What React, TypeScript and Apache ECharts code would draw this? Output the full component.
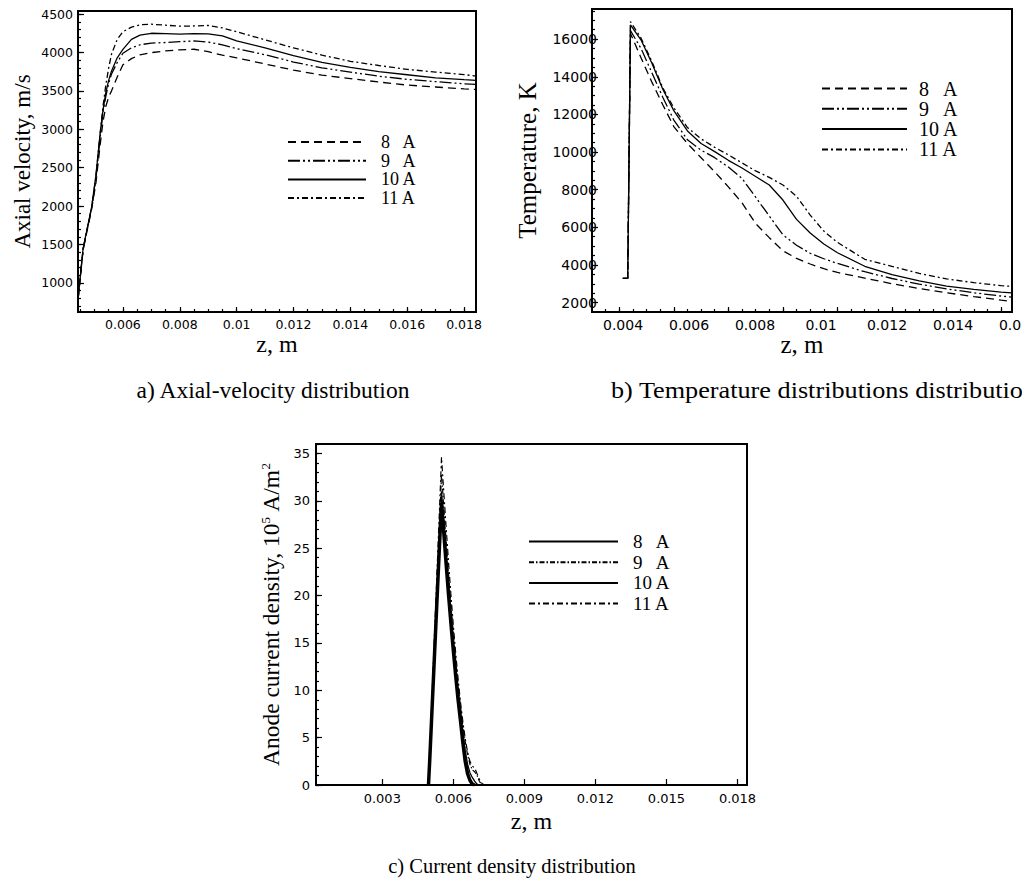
import React, { useEffect, useRef } from 'react';
import * as echarts from 'echarts';

const SERIF = '"Liberation Serif", "Times New Roman", serif';
const SANS = '"DejaVu Sans", sans-serif';

const NAMES = ['8   A', '9   A', '10 A', '11 A'];

// ---------- Panel a: axial velocity ----------
const zA = [0.00442, 0.0046, 0.0049, 0.00505, 0.0052, 0.0053, 0.0054, 0.0055, 0.0056, 0.0058, 0.006, 0.0063, 0.0066, 0.007, 0.0075, 0.008, 0.0085, 0.009, 0.0095, 0.01, 0.011, 0.012, 0.013, 0.014, 0.015, 0.016, 0.017, 0.018, 0.01842];
const velA8 = [780, 1430, 1960, 2300, 2800, 3100, 3300, 3420, 3500, 3680, 3840, 3920, 3970, 3998, 4020, 4035, 4042, 4010, 3965, 3930, 3850, 3770, 3705, 3660, 3615, 3575, 3550, 3525, 3518];
const velA9 = [780, 1440, 1970, 2350, 2900, 3220, 3430, 3600, 3720, 3870, 3990, 4060, 4100, 4122, 4130, 4140, 4150, 4135, 4100, 4050, 3970, 3875, 3800, 3745, 3690, 3650, 3620, 3592, 3584];
const velA10 = [780, 1450, 1990, 2400, 2950, 3250, 3480, 3640, 3760, 3930, 4040, 4170, 4225, 4250, 4245, 4238, 4245, 4242, 4215, 4150, 4060, 3958, 3870, 3805, 3750, 3710, 3670, 3645, 3636];
const velA11 = [780, 1440, 1980, 2380, 2950, 3300, 3580, 3800, 3980, 4170, 4270, 4330, 4360, 4368, 4355, 4342, 4345, 4352, 4320, 4270, 4165, 4060, 3965, 3885, 3830, 3780, 3745, 3712, 3693];
const xTicksA = [0.006, 0.008, 0.01, 0.012, 0.014, 0.016, 0.018];
const yTicksA = [1000, 1500, 2000, 2500, 3000, 3500, 4000, 4500];

// ---------- Panel b: temperature ----------
const zB = [0.00413, 0.00431, 0.00441, 0.0048, 0.0052, 0.0056, 0.006, 0.0065, 0.007, 0.0075, 0.008, 0.0085, 0.009, 0.0095, 0.01, 0.0105, 0.011, 0.0115, 0.012, 0.013, 0.014, 0.015, 0.016, 0.017, 0.018, 0.0184];
const tempB8 = [3290, 3290, 16300, 15000, 13700, 12500, 11350, 10450, 9700, 8950, 8150, 7300, 6200, 5450, 4750, 4350, 4050, 3800, 3600, 3300, 3000, 2750, 2520, 2320, 2130, 2060];
const tempB9 = [3290, 3290, 16450, 15500, 14200, 12900, 11700, 10650, 10100, 9700, 9200, 8600, 7600, 6600, 5600, 5050, 4620, 4330, 4080, 3640, 3280, 2980, 2730, 2520, 2350, 2290];
const tempB10 = [3290, 3290, 16750, 15950, 14700, 13320, 12200, 11120, 10450, 10020, 9560, 9150, 8700, 8250, 7450, 6420, 5700, 5110, 4650, 3930, 3480, 3150, 2880, 2700, 2560, 2520];
const tempB11 = [3290, 3290, 16930, 16050, 14800, 13400, 12350, 11300, 10700, 10250, 9850, 9420, 9000, 8650, 8250, 7650, 6650, 5800, 5200, 4300, 3920, 3550, 3260, 3060, 2900, 2860];
const xTicksB = [0.004, 0.006, 0.008, 0.01, 0.012, 0.014, 0.016, 0.018];
const xLabelsB = [0.004, 0.006, 0.008, 0.01, 0.012, 0.014, 0.016];
const yTicksB = [2000, 4000, 6000, 8000, 10000, 12000, 14000, 16000];

// ---------- Panel c: anode current density ----------
const zC = [0.00495, 0.005, 0.0051, 0.0052, 0.0053, 0.0054, 0.0055, 0.0056, 0.0057, 0.0058, 0.0059, 0.006, 0.0061, 0.0062, 0.0063, 0.0064, 0.0065, 0.0066, 0.0067, 0.0068, 0.0069, 0.007, 0.0071, 0.0072, 0.0073];
const curC8 = [0, 2.5, 8, 13.5, 19, 24.5, 29.8, 26.5, 23.2, 20, 17, 14.2, 11.5, 9, 6.8, 4.5, 2.5, 1.2, 0.5, 0.1, 0, null, null, null, null];
const curC9 = [0, 2.8, 8.8, 14.8, 20.8, 26.8, 32.8, 29.2, 25.6, 22.2, 19, 16, 13.2, 10.6, 8.3, 6.3, 4.6, 3.2, 2.2, 1.6, 1.4, 1.0, 0.4, 0, null];
const curC10 = [0, 2.6, 8.3, 14, 19.7, 25.4, 31, 27.6, 24.2, 21, 18, 15.2, 12.5, 10, 7.8, 5.6, 3.6, 2.2, 1.3, 0.8, 0.4, 0.1, 0, null, null];
const curC11 = [0, 3, 9.3, 15.6, 21.9, 28.2, 34.6, 30.8, 27, 23.4, 20, 16.8, 13.9, 11.2, 8.8, 6.7, 4.9, 3.5, 2.5, 2.0, 1.8, 1.2, 0.6, 0.2, 0];
const xTicksC = [0.003, 0.006, 0.009, 0.012, 0.015, 0.018];
const yTicksC = [0, 5, 10, 15, 20, 25, 30, 35];

// ---------- helpers ----------
function steps(start: number, end: number, step: number): number[] {
  const n = Math.round((end - start) / step);
  const out: number[] = [];
  for (let i = 0; i <= n; i++) out.push(Number((start + i * step).toFixed(8)));
  return out;
}
const fmt = (v: number) => String(Number(Number(v).toFixed(6)));

function axis(p: any) {
  const isY = p.position === 'left';
  return {
    type: 'value',
    gridIndex: p.gridIndex,
    min: p.min,
    max: p.max,
    position: p.position,
    show: p.show !== false,
    axisLine: { show: !!p.line, onZero: false, lineStyle: { color: '#000', width: 2 } },
    axisTick: {
      show: !!p.ticks,
      inside: true,
      length: p.tickLen || 5,
      customValues: p.ticks || [],
      lineStyle: { color: '#000', width: 1.2 },
    },
    axisLabel: p.labels
      ? {
          show: true,
          customValues: p.labels,
          margin: p.labelMargin,
          formatter: fmt,
          color: '#000',
          fontFamily: SANS,
          fontSize: p.labelFont,
          hideOverlap: false,
        }
      : { show: false },
    splitLine: { show: false },
    name: p.name,
    nameLocation: 'middle',
    nameGap: p.nameGap,
    nameRotate: isY ? 90 : 0,
    nameMoveOverlap: false,
    nameTextStyle: {
      fontFamily: SERIF,
      fontSize: p.nameFont,
      color: '#000',
      rich: p.nameRich,
    },
  };
}

function line(name: string, xs: number[], ys: (number | null)[], lineStyle: any) {
  const data = xs.map((x, i) => [x, ys[i]]).filter((d) => d[1] !== null);
  return {
    type: 'line',
    name,
    data,
    symbol: 'none',
    showSymbol: false,
    xAxisIndex: 0,
    yAxisIndex: 0,
    lineStyle: { color: '#000', width: 1.3, ...lineStyle },
    itemStyle: { color: '#000' },
    z: 3,
  };
}

function grid(left: number, top: number, width: number, height: number, show = true) {
  return {
    left,
    top,
    width,
    height,
    show,
    borderColor: '#000',
    borderWidth: 2,
    backgroundColor: 'transparent',
    containLabel: false,
    outerBoundsMode: 'none',
  };
}

function legend(left: number, top: number, w: number, h: number, gap: number, font: number, pad: number) {
  return {
    orient: 'vertical',
    left,
    top,
    itemWidth: w,
    itemHeight: h,
    itemGap: gap,
    selectedMode: false,
    padding: 0,
    data: NAMES,
    itemStyle: { opacity: 0, color: 'transparent', borderWidth: 0 },
    textStyle: { fontFamily: SERIF, fontSize: font, color: '#000', padding: [0, 0, 0, pad] },
  };
}

function caption(text: string, x: number, y: number, align: string, size: number, scaleX = 1) {
  return {
    type: 'text',
    x,
    y,
    scaleX,
    silent: true,
    style: {
      text,
      fill: '#000',
      fontFamily: SERIF,
      fontSize: size,
      align,
      verticalAlign: 'middle',
      textAlign: align,
      textVerticalAlign: 'middle',
    },
  };
}

const DASH = [8, 5];
const DASH_DOT_DOT = [12, 3, 2, 3, 2, 3];
const DASH_DOT = [6, 3, 2, 3];

// ---------- options ----------
const optionA = {
  animation: false,
  grid: [grid(78, 11, 398, 301)],
  xAxis: [
    axis({ gridIndex: 0, min: 0.00442, max: 0.01842, position: 'bottom', line: true, ticks: xTicksA, labels: xTicksA, labelFont: 12.5, labelMargin: 6, tickLen: 5, name: 'z, m', nameGap: 20, nameFont: 24 }),
    axis({ gridIndex: 0, min: 0.00442, max: 0.01842, position: 'bottom', ticks: steps(0.0045, 0.018, 0.0005), tickLen: 3 }),
  ],
  yAxis: [
    axis({ gridIndex: 0, min: 620, max: 4540, position: 'left', line: true, ticks: yTicksA, labels: yTicksA, labelFont: 12.5, labelMargin: 5, tickLen: 6, name: 'Axial velocity, m/s', nameGap: 44, nameFont: 23 }),
    axis({ gridIndex: 0, min: 620, max: 4540, position: 'left', ticks: steps(700, 4500, 100), tickLen: 3 }),
  ],
  legend: legend(287, 133, 78, 20, 0.7, 18, 10),
  series: [
    line(NAMES[0], zA, velA8, { type: DASH }),
    line(NAMES[1], zA, velA9, { type: DASH_DOT_DOT }),
    line(NAMES[2], zA, velA10, { type: 'solid' }),
    line(NAMES[3], zA, velA11, { type: DASH_DOT }),
  ],
  graphic: [caption('a) Axial-velocity distribution', 273, 390, 'center', 23.5)],
};

const optionB = {
  animation: false,
  grid: [grid(592, 9, 420, 303), grid(592, 9, 460, 303, false)],
  xAxis: [
    axis({ gridIndex: 0, min: 0.003, max: 0.0184, position: 'bottom', line: true, ticks: xTicksB, tickLen: 5, name: 'z, m', nameGap: 20, nameFont: 25 }),
    axis({ gridIndex: 0, min: 0.003, max: 0.0184, position: 'bottom', ticks: steps(0.0035, 0.018, 0.0005), tickLen: 3 }),
    axis({ gridIndex: 1, min: 0.00306, max: 0.017, position: 'bottom', labels: xLabelsB, labelFont: 14, labelMargin: 6 }),
  ],
  yAxis: [
    axis({ gridIndex: 0, min: 1500, max: 17600, position: 'left', line: true, ticks: yTicksB, labels: yTicksB, labelFont: 14, labelMargin: -5, tickLen: 6, name: 'Temperature, K', nameGap: 52, nameFont: 25 }),
    axis({ gridIndex: 0, min: 1500, max: 17600, position: 'left', ticks: steps(2000, 17500, 500), tickLen: 3 }),
    axis({ gridIndex: 1, min: 1500, max: 17600, position: 'left', show: false }),
  ],
  legend: legend(821, 78.5, 85, 21, 0.3, 20, 7),
  series: [
    line(NAMES[0], zB, tempB8, { type: DASH }),
    line(NAMES[1], zB, tempB9, { type: DASH_DOT_DOT }),
    line(NAMES[2], zB, tempB10, { type: 'solid' }),
    line(NAMES[3], zB, tempB11, { type: DASH_DOT }),
  ],
  graphic: [caption('b) Temperature distributions distribution', 611, 390, 'left', 23, 1.14)],
};

const optionC = {
  animation: false,
  grid: [grid(316, 444, 431, 341)],
  xAxis: [
    axis({ gridIndex: 0, min: 0.0002, max: 0.0184, position: 'bottom', line: true, ticks: xTicksC, labels: xTicksC, labelFont: 13, labelMargin: 7, tickLen: 6, name: 'z, m', nameGap: 24, nameFont: 24 }),
  ],
  yAxis: [
    axis({
      gridIndex: 0, min: 0, max: 36, position: 'left', line: true, ticks: yTicksC, labels: yTicksC, labelFont: 13, labelMargin: 6, tickLen: 6,
      name: 'Anode current density, 10{sup|5} A/m{sup|2}', nameGap: 33, nameFont: 23.5,
      nameRich: { sup: { fontFamily: SERIF, fontSize: 13, color: '#000', verticalAlign: 'top' } },
    }),
    axis({ gridIndex: 0, min: 0, max: 36, position: 'left', ticks: steps(0, 36, 1), tickLen: 3 }),
  ],
  legend: legend(528, 532, 89, 22, 1.7, 19, 10),
  series: [
    line(NAMES[0], zC, curC8, { type: 'solid', width: 3.5 }),
    line(NAMES[1], zC, curC9, { type: [5, 2, 1.5, 2], width: 1.2 }),
    line(NAMES[2], zC, curC10, { type: 'solid', width: 1.3 }),
    line(NAMES[3], zC, curC11, { type: DASH_DOT, width: 1.2 }),
  ],
  graphic: [caption('c) Current density distribution', 512, 866, 'center', 20.5)],
};

export default function App() {
  const refA = useRef<HTMLDivElement>(null);
  const refB = useRef<HTMLDivElement>(null);
  const refC = useRef<HTMLDivElement>(null);

  useEffect(() => {
    const pairs: [HTMLDivElement | null, any][] = [
      [refA.current, optionA],
      [refB.current, optionB],
      [refC.current, optionC],
    ];
    const charts = pairs.map(([el, opt]) => {
      const c = echarts.init(el as HTMLDivElement, null, { renderer: 'svg' });
      c.setOption(opt);
      return c;
    });
    return () => charts.forEach((c) => c.dispose());
  }, []);

  const layer: React.CSSProperties = { position: 'absolute', left: 0, top: 0, width: 1022, height: 883 };
  return (
    <div style={{ position: 'absolute', left: 0, top: 0, width: 1022, height: 883, background: '#fff', overflow: 'hidden' }}>
      <div ref={refA} style={layer} />
      <div ref={refB} style={layer} />
      <div ref={refC} style={layer} />
    </div>
  );
}
